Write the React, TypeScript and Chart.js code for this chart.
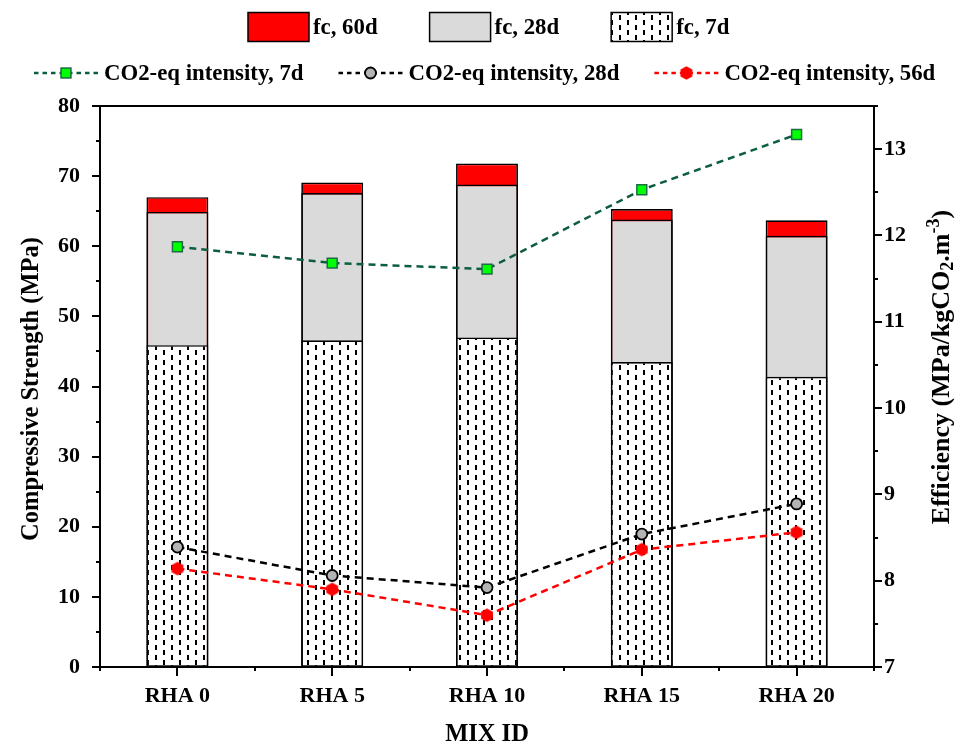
import { useEffect, useRef } from 'react';
import { Chart, registerables } from 'chart.js';

Chart.register(...registerables);

// Mix designs on the category axis
const mixIds = ['RHA 0', 'RHA 5', 'RHA 10', 'RHA 15', 'RHA 20'];

// Compressive strength (MPa) at each curing age
const fc60d = [67.0, 69.1, 71.8, 65.3, 63.7];
const fc28d = [64.9, 67.6, 68.8, 63.8, 61.5];
const fc7d = [45.9, 46.6, 47.0, 43.5, 41.4];

// Efficiency (MPa / kgCO2·m-3) from CO2-eq intensity
const co2Int7d = [11.87, 11.68, 11.61, 12.53, 13.17];
const co2Int28d = [8.39, 8.06, 7.92, 8.54, 8.89];
const co2Int56d = [8.14, 7.9, 7.6, 8.36, 8.56];

// Axis ranges
const strengthRange = [0, 80];
const efficiencyRange = [7, 13.5];

const SERIF = '"Liberation Serif", "Times New Roman", serif';
const tickFont = { family: SERIF, size: 22, weight: 'bold' as const };

function makeDashPattern(ctx: CanvasRenderingContext2D) {
  const tile = document.createElement('canvas');
  tile.width = 16;
  tile.height = 10;
  const t = tile.getContext('2d')!;
  t.fillStyle = '#ffffff';
  t.fillRect(0, 0, 16, 10);
  t.fillStyle = '#000000';
  t.fillRect(3, 0, 2, 5);
  t.fillRect(11, 5, 2, 5);
  return ctx.createPattern(tile, 'repeat')!;
}

function makeHexagon(r: number, color: string) {
  const c = document.createElement('canvas');
  const s = Math.ceil(r * 2 + 2);
  c.width = s;
  c.height = s;
  const g = c.getContext('2d')!;
  g.fillStyle = color;
  g.beginPath();
  for (let k = 0; k < 6; k++) {
    const a = -Math.PI / 2 + (k * Math.PI) / 3;
    const x = s / 2 + r * Math.cos(a);
    const y = s / 2 + r * Math.sin(a);
    if (k === 0) g.moveTo(x, y);
    else g.lineTo(x, y);
  }
  g.closePath();
  g.fill();
  return c;
}

function drawMarker(ctx: CanvasRenderingContext2D, ds: any, x: number, y: number) {
  const style = ds.pointStyle;
  ctx.save();
  ctx.fillStyle = ds.pointBackgroundColor;
  ctx.strokeStyle = ds.pointBorderColor;
  ctx.lineWidth = ds.pointBorderWidth;
  if (style === 'rect') {
    const h = ds.pointRadius * Math.SQRT1_2;
    ctx.fillRect(x - h, y - h, 2 * h, 2 * h);
    ctx.strokeRect(x - h, y - h, 2 * h, 2 * h);
  } else if (style === 'circle') {
    ctx.beginPath();
    ctx.arc(x, y, ds.pointRadius, 0, Math.PI * 2);
    ctx.fill();
    ctx.stroke();
  } else if (style instanceof HTMLCanvasElement) {
    ctx.drawImage(style, x - style.width / 2, y - style.height / 2);
  }
  ctx.restore();
}

const decorations = {
  id: 'decorations',
  afterDraw(chart: any) {
    const { ctx, chartArea: a, scales } = chart;
    ctx.save();

    // frame
    ctx.strokeStyle = '#000';
    ctx.lineWidth = 2;
    ctx.strokeRect(a.left, a.top, a.right - a.left, a.bottom - a.top);

    // outward tick marks
    ctx.beginPath();
    const xs = scales.x;
    for (let i = 0; i < mixIds.length; i++) {
      const px = Math.round(xs.getPixelForValue(i));
      ctx.moveTo(px, a.bottom);
      ctx.lineTo(px, a.bottom + 9);
    }
    for (let i = 0; i <= mixIds.length; i++) {
      const px = Math.round(xs.getPixelForValue(i - 0.5));
      ctx.moveTo(px, a.bottom);
      ctx.lineTo(px, a.bottom + 4);
    }
    const yl = scales.y;
    for (let v = strengthRange[0]; v <= strengthRange[1]; v += 5) {
      const py = Math.round(yl.getPixelForValue(v));
      const len = v % 10 === 0 ? 8 : 4;
      ctx.moveTo(a.left, py);
      ctx.lineTo(a.left - len, py);
    }
    const yr = scales.y1;
    for (let v = efficiencyRange[0]; v <= efficiencyRange[1] + 1e-6; v += 0.5) {
      const py = Math.round(yr.getPixelForValue(v));
      const len = Math.abs(v - Math.round(v)) < 1e-6 ? 8 : 4;
      ctx.moveTo(a.right, py);
      ctx.lineTo(a.right + len, py);
    }
    ctx.stroke();

    // axis titles
    ctx.fillStyle = '#000';
    ctx.textBaseline = 'middle';
    ctx.textAlign = 'center';
    ctx.font = `bold 24.5px ${SERIF}`;
    ctx.fillText('MIX ID', xs.getPixelForValue(2), 735);

    ctx.save();
    ctx.translate(32, 389);
    ctx.rotate(-Math.PI / 2);
    ctx.fillText('Compressive Strength (MPa)', 0, 0);
    ctx.restore();

    // right title with sub/superscripts
    const parts = [
      { t: 'Efficiency (MPa/kgCO', size: 26, dy: 0 },
      { t: '2', size: 18, dy: 6 },
      { t: '.m', size: 26, dy: 0 },
      { t: '-3', size: 18, dy: -8 },
      { t: ')', size: 26, dy: 0 },
    ];
    let total = 0;
    for (const p of parts) {
      ctx.font = `bold ${p.size}px ${SERIF}`;
      total += ctx.measureText(p.t).width;
    }
    ctx.save();
    ctx.translate(942, 367);
    ctx.rotate(-Math.PI / 2);
    ctx.textAlign = 'left';
    let cx = -total / 2;
    for (const p of parts) {
      ctx.font = `bold ${p.size}px ${SERIF}`;
      ctx.fillText(p.t, cx, p.dy);
      cx += ctx.measureText(p.t).width;
    }
    ctx.restore();

    // legend
    const ds = chart.data.datasets;
    const legendFont = `bold 22.8px ${SERIF}`;
    ctx.font = legendFont;
    ctx.textAlign = 'left';
    ctx.textBaseline = 'middle';

    // row 1: bar swatches
    let lx = 248;
    const r1y = 27;
    for (const d of ds.filter((d: any) => d.type === 'bar')) {
      ctx.fillStyle = d.backgroundColor;
      ctx.fillRect(lx, r1y - 14.5, 61, 29);
      ctx.strokeStyle = '#000';
      ctx.lineWidth = 1.5;
      ctx.strokeRect(lx, r1y - 14.5, 61, 29);
      ctx.fillStyle = '#000';
      ctx.fillText(d.label, lx + 65, r1y + 1);
      lx += 65 + ctx.measureText(d.label).width + 52;
    }

    // row 2: line samples
    lx = 34;
    const r2y = 73;
    for (const d of ds.filter((d: any) => d.type === 'line')) {
      ctx.save();
      ctx.strokeStyle = d.borderColor;
      ctx.lineWidth = 2.5;
      ctx.setLineDash([4.5, 4]);
      ctx.beginPath();
      ctx.moveTo(lx, r2y);
      ctx.lineTo(lx + 64, r2y);
      ctx.stroke();
      ctx.restore();
      drawMarker(ctx, d, lx + 32, r2y);
      ctx.fillStyle = '#000';
      ctx.font = legendFont;
      ctx.fillText(d.label, lx + 70, r2y + 1);
      lx += 70 + ctx.measureText(d.label).width + 35;
    }

    ctx.restore();
  },
};

export default function App() {
  const canvasRef = useRef<HTMLCanvasElement | null>(null);

  useEffect(() => {
    const canvas = canvasRef.current!;
    const ctx = canvas.getContext('2d')!;
    const dashPattern = makeDashPattern(ctx);
    const hexagon = makeHexagon(6.8, '#FF0000');

    const barCommon = {
      type: 'bar' as const,
      yAxisID: 'y',
      borderColor: '#000000',
      borderWidth: 1.7,
      borderSkipped: false as const,
      grouped: false,
      barPercentage: 0.4,
      categoryPercentage: 1,
    };
    const lineCommon = {
      type: 'line' as const,
      yAxisID: 'y1',
      borderWidth: 2.5,
      borderDash: [7, 5],
      fill: false,
      tension: 0,
      order: 0,
    };

    const chart = new Chart(canvas, {
      data: {
        labels: mixIds,
        datasets: [
          { ...barCommon, label: 'fc, 60d', data: fc60d, backgroundColor: '#FF0000', order: 3 },
          { ...barCommon, label: 'fc, 28d', data: fc28d, backgroundColor: '#DADADA', order: 2 },
          { ...barCommon, label: 'fc, 7d', data: fc7d, backgroundColor: dashPattern as any, order: 1 },
          {
            ...lineCommon,
            label: 'CO2-eq intensity, 7d',
            data: co2Int7d,
            borderColor: '#0B5E3E',
            pointStyle: 'rect',
            pointRadius: 7,
            pointBackgroundColor: '#00FF00',
            pointBorderColor: '#1F6B45',
            pointBorderWidth: 1.5,
          },
          {
            ...lineCommon,
            label: 'CO2-eq intensity, 28d',
            data: co2Int28d,
            borderColor: '#000000',
            pointStyle: 'circle',
            pointRadius: 5.5,
            pointBackgroundColor: '#B4B4B4',
            pointBorderColor: '#000000',
            pointBorderWidth: 1.8,
          },
          {
            ...lineCommon,
            label: 'CO2-eq intensity, 56d',
            data: co2Int56d,
            borderColor: '#FF0000',
            pointStyle: hexagon as any,
            pointRadius: 7,
            pointBackgroundColor: '#FF0000',
            pointBorderColor: '#FF0000',
            pointBorderWidth: 0,
          },
        ] as any,
      },
      options: {
        responsive: false,
        animation: false,
        devicePixelRatio: 1,
        layout: { padding: { top: 106, left: 0, right: 0, bottom: 0 } },
        plugins: { legend: { display: false }, tooltip: { enabled: false } },
        scales: {
          x: {
            type: 'category',
            offset: true,
            grid: { display: false, drawTicks: true, tickLength: 9 },
            border: { display: false },
            ticks: { font: tickFont, color: '#000', padding: 7, maxRotation: 0, autoSkip: false },
            afterFit: (s: any) => {
              s.height = 82;
            },
          },
          y: {
            position: 'left',
            min: strengthRange[0],
            max: strengthRange[1],
            grid: { display: false, drawTicks: true, tickLength: 8 },
            border: { display: false },
            ticks: { stepSize: 10, font: tickFont, color: '#000', padding: 12 },
            afterFit: (s: any) => {
              s.width = 100;
            },
          },
          y1: {
            position: 'right',
            min: efficiencyRange[0],
            max: efficiencyRange[1],
            grid: { display: false, drawTicks: true, tickLength: 8 },
            border: { display: false },
            ticks: { stepSize: 1, includeBounds: false, font: tickFont, color: '#000', padding: 2 },
            afterFit: (s: any) => {
              s.width = 90;
            },
          },
        },
      } as any,
      plugins: [decorations],
    });

    return () => chart.destroy();
  }, []);

  return (
    <div style={{ position: 'fixed', left: 0, top: 0, width: 964, height: 749, background: '#fff' }}>
      <canvas ref={canvasRef} width={964} height={749} style={{ display: 'block' }} />
    </div>
  );
}
